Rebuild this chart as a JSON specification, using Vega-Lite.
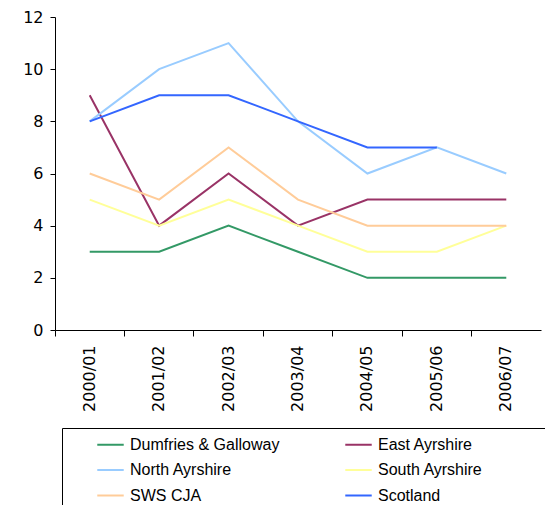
{
  "$schema": "https://vega.github.io/schema/vega-lite/v6.json",
  "width": 486,
  "height": 313,
  "autosize": "none",
  "padding": {"left": 55, "top": 17, "right": 4, "bottom": 175},
  "background": "white",
  "config": {"view": {"stroke": null}},
  "data": {
    "values": [
      {"year": "2000/01", "area": "Dumfries & Galloway", "value": 3},
      {"year": "2001/02", "area": "Dumfries & Galloway", "value": 3},
      {"year": "2002/03", "area": "Dumfries & Galloway", "value": 4},
      {"year": "2003/04", "area": "Dumfries & Galloway", "value": 3},
      {"year": "2004/05", "area": "Dumfries & Galloway", "value": 2},
      {"year": "2005/06", "area": "Dumfries & Galloway", "value": 2},
      {"year": "2006/07", "area": "Dumfries & Galloway", "value": 2},
      {"year": "2000/01", "area": "East Ayrshire", "value": 9},
      {"year": "2001/02", "area": "East Ayrshire", "value": 4},
      {"year": "2002/03", "area": "East Ayrshire", "value": 6},
      {"year": "2003/04", "area": "East Ayrshire", "value": 4},
      {"year": "2004/05", "area": "East Ayrshire", "value": 5},
      {"year": "2005/06", "area": "East Ayrshire", "value": 5},
      {"year": "2006/07", "area": "East Ayrshire", "value": 5},
      {"year": "2000/01", "area": "North Ayrshire", "value": 8},
      {"year": "2001/02", "area": "North Ayrshire", "value": 10},
      {"year": "2002/03", "area": "North Ayrshire", "value": 11},
      {"year": "2003/04", "area": "North Ayrshire", "value": 8},
      {"year": "2004/05", "area": "North Ayrshire", "value": 6},
      {"year": "2005/06", "area": "North Ayrshire", "value": 7},
      {"year": "2006/07", "area": "North Ayrshire", "value": 6},
      {"year": "2000/01", "area": "South Ayrshire", "value": 5},
      {"year": "2001/02", "area": "South Ayrshire", "value": 4},
      {"year": "2002/03", "area": "South Ayrshire", "value": 5},
      {"year": "2003/04", "area": "South Ayrshire", "value": 4},
      {"year": "2004/05", "area": "South Ayrshire", "value": 3},
      {"year": "2005/06", "area": "South Ayrshire", "value": 3},
      {"year": "2006/07", "area": "South Ayrshire", "value": 4},
      {"year": "2000/01", "area": "SWS CJA", "value": 6},
      {"year": "2001/02", "area": "SWS CJA", "value": 5},
      {"year": "2002/03", "area": "SWS CJA", "value": 7},
      {"year": "2003/04", "area": "SWS CJA", "value": 5},
      {"year": "2004/05", "area": "SWS CJA", "value": 4},
      {"year": "2005/06", "area": "SWS CJA", "value": 4},
      {"year": "2006/07", "area": "SWS CJA", "value": 4},
      {"year": "2000/01", "area": "Scotland", "value": 8},
      {"year": "2001/02", "area": "Scotland", "value": 9},
      {"year": "2002/03", "area": "Scotland", "value": 9},
      {"year": "2003/04", "area": "Scotland", "value": 8},
      {"year": "2004/05", "area": "Scotland", "value": 7},
      {"year": "2005/06", "area": "Scotland", "value": 7}
    ]
  },
  "mark": {"type": "line", "strokeWidth": 2},
  "encoding": {
    "x": {
      "field": "year",
      "type": "nominal",
      "scale": {"type": "band", "paddingInner": 0, "paddingOuter": 0},
      "axis": {
        "title": null,
        "labelAngle": -90,
        "labelFont": "DejaVu Sans",
        "labelFontSize": 16,
        "labelColor": "black",
        "labelPadding": 9,
        "bandPosition": 0,
        "tickSize": 6,
        "tickColor": "black",
        "domainColor": "black",
        "labelBaseline": "middle",
        "labelAlign": "right",
        "labelOffset": 0
      }
    },
    "y": {
      "field": "value",
      "type": "quantitative",
      "scale": {"domain": [0, 12], "nice": false},
      "axis": {
        "title": null,
        "values": [0, 2, 4, 6, 8, 10, 12],
        "grid": false,
        "labelFont": "DejaVu Sans",
        "labelFontSize": 16,
        "labelColor": "black",
        "tickSize": 5,
        "tickColor": "black",
        "domainColor": "black",
        "labelPadding": 7
      }
    },
    "color": {
      "field": "area",
      "type": "nominal",
      "sort": ["Dumfries & Galloway", "East Ayrshire", "North Ayrshire", "South Ayrshire", "SWS CJA", "Scotland"],
      "scale": {
        "domain": ["Dumfries & Galloway", "East Ayrshire", "North Ayrshire", "South Ayrshire", "SWS CJA", "Scotland"],
        "range": ["#339966", "#993366", "#99CCFF", "#FFFF99", "#FFCC99", "#3366FF"]
      },
      "legend": {
        "title": "\u00a0",
        "titleOrient": "right",
        "titlePadding": 60,
        "titleFontSize": 10,
        "titleColor": "white",
        "orient": "none",
        "legendX": 7,
        "legendY": 411,
        "columns": 2,
        "direction": "horizontal",
        "gridAlign": "each",
        "columnPadding": 32,
        "rowPadding": 2.5,
        "padding": 2,
        "symbolOffset": 32,
        "symbolType": "stroke",
        "symbolSize": 700,
        "symbolStrokeWidth": 2,
        "labelFont": "Liberation Sans",
        "labelFontSize": 16,
        "labelColor": "black",
        "labelOffset": 5,
        "labelLimit": 400,
        "strokeColor": "black",
        "offset": 0
      }
    }
  }
}
